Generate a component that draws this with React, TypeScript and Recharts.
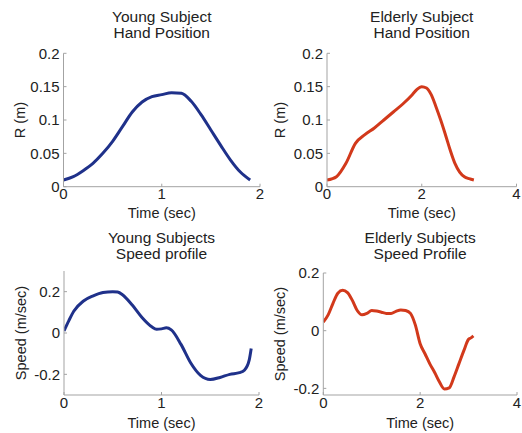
import React from 'react';
import { LineChart, Line, XAxis, YAxis } from 'recharts';

// hand position, young subject
const youngPosTime = [0, 0.1, 0.2, 0.3, 0.4, 0.5, 0.6, 0.7, 0.8, 0.9, 1.0, 1.1, 1.2, 1.3, 1.4, 1.5, 1.6, 1.7, 1.8, 1.9];
const youngPosR = [0.010, 0.015, 0.024, 0.035, 0.050, 0.068, 0.090, 0.112, 0.127, 0.135, 0.138, 0.141, 0.140, 0.128, 0.108, 0.085, 0.062, 0.040, 0.022, 0.010];

// hand position, elderly subject
const elderPosTime = [0, 0.2, 0.4, 0.6, 0.8, 1.0, 1.2, 1.4, 1.6, 1.8, 1.9, 2.0, 2.1, 2.2, 2.3, 2.4, 2.5, 2.6, 2.7, 2.8, 2.9, 3.0, 3.1];
const elderPosR = [0.010, 0.015, 0.035, 0.065, 0.078, 0.088, 0.100, 0.112, 0.124, 0.138, 0.146, 0.150, 0.148, 0.138, 0.120, 0.100, 0.078, 0.055, 0.035, 0.022, 0.015, 0.012, 0.010];

// speed profile, young subjects
const youngSpdTime = [0, 0.05, 0.1, 0.2, 0.3, 0.4, 0.5, 0.55, 0.6, 0.7, 0.8, 0.9, 0.95, 1.0, 1.05, 1.1, 1.2, 1.3, 1.4, 1.5, 1.6, 1.7, 1.8, 1.85, 1.9, 1.92];
const youngSpd = [0.010, 0.060, 0.105, 0.155, 0.180, 0.196, 0.200, 0.198, 0.185, 0.135, 0.075, 0.030, 0.018, 0.020, 0.025, 0.015, -0.055, -0.145, -0.205, -0.225, -0.215, -0.200, -0.192, -0.180, -0.130, -0.075];

// speed profile, elderly subjects
const elderSpdTime = [0, 0.1, 0.2, 0.3, 0.4, 0.5, 0.6, 0.7, 0.8, 0.9, 1.0, 1.1, 1.2, 1.3, 1.4, 1.5, 1.6, 1.7, 1.8, 1.9, 2.0, 2.1, 2.2, 2.3, 2.4, 2.5, 2.6, 2.7, 2.8, 2.9, 3.0, 3.05, 3.1];
const elderSpd = [0.030, 0.055, 0.095, 0.130, 0.140, 0.132, 0.105, 0.070, 0.055, 0.060, 0.070, 0.068, 0.064, 0.060, 0.060, 0.067, 0.072, 0.070, 0.060, 0.020, -0.045, -0.080, -0.115, -0.145, -0.178, -0.202, -0.198, -0.160, -0.115, -0.070, -0.030, -0.025, -0.018];

const posTicks = [0, 0.05, 0.1, 0.15, 0.2];
const spdTicks = [-0.2, 0, 0.2];
const youngTimeTicks = [0, 1, 2];
const elderTimeTicks = [0, 2, 4];

const BLUE = '#1f318a';
const RED = '#d2391b';
const AXIS = '#a3a3a3';
const FONT = '"Liberation Sans", Arial, Helvetica, sans-serif';

const zip = (t: number[], v: number[]) => t.map((x, i) => ({ t: x, v: v[i] }));

type PanelProps = {
  left: number; top: number; width: number; height: number;
  x0: number; x1: number; y0: number; y1: number;
  data: { t: number; v: number }[];
  xDomain: number[]; xTicks: number[];
  yDomain: number[]; yTicks: number[];
  color: string;
  title: string[]; titleTop: number;
  yLabel: string; yLabelX: number;
  xLabelTop: number;
};

const Panel = (p: PanelProps) => {
  const cx = (p.x0 + p.x1) / 2;
  return (
    <>
      <div style={{ position: 'absolute', left: p.left, top: p.top }}>
        <LineChart
          width={p.width}
          height={p.height}
          data={p.data}
          margin={{ top: p.y0 - p.top, right: p.left + p.width - p.x1, bottom: 0, left: 0 }}
        >
          <XAxis
            type="number"
            dataKey="t"
            domain={p.xDomain}
            ticks={p.xTicks}
            interval={0}
            allowDataOverflow
            height={p.top + p.height - p.y1}
            stroke={AXIS}
            tickSize={-3}
            tickMargin={5}
            tick={{ fill: '#222', fontSize: 15 }}
          />
          <YAxis
            type="number"
            domain={p.yDomain}
            ticks={p.yTicks}
            interval={0}
            allowDataOverflow
            width={p.x0 - p.left}
            stroke={AXIS}
            tickSize={-3}
            tickMargin={7}
            tick={{ fill: '#222', fontSize: 15 }}
          />
          <Line
            type="monotone"
            dataKey="v"
            stroke={p.color}
            strokeWidth={3}
            dot={false}
            isAnimationActive={false}
          />
        </LineChart>
      </div>
      <div style={{ position: 'absolute', left: cx - 100, width: 200, top: p.titleTop, textAlign: 'center', fontSize: 15.5, lineHeight: '16px', color: '#222' }}>
        {p.title.map((s) => <div key={s}>{s}</div>)}
      </div>
      <div style={{ position: 'absolute', left: cx - 60, width: 120, top: p.xLabelTop, textAlign: 'center', fontSize: 14.5, lineHeight: '16px', color: '#222' }}>
        Time (sec)
      </div>
      <div style={{ position: 'absolute', left: p.yLabelX, top: (p.y0 + p.y1) / 2, transform: 'translate(-50%, -50%) rotate(-90deg)', whiteSpace: 'nowrap', fontSize: 14.5, color: '#222' }}>
        {p.yLabel}
      </div>
    </>
  );
};

export default function App() {
  return (
    <div style={{ position: 'absolute', left: 0, top: 0, width: 522, height: 433, background: '#fff', fontFamily: FONT, overflow: 'hidden' }}>
      <Panel
        left={0} top={0} width={270} height={215}
        x0={63.5} x1={260} y0={53.3} y1={186.7}
        data={zip(youngPosTime, youngPosR)}
        xDomain={[0, 2]} xTicks={youngTimeTicks}
        yDomain={[0, 0.2]} yTicks={posTicks}
        color={BLUE}
        title={['Young Subject', 'Hand Position']} titleTop={8.5}
        yLabel="R (m)" yLabelX={20}
        xLabelTop={205}
      />
      <Panel
        left={270} top={0} width={252} height={215}
        x0={327} x1={516.5} y0={53.3} y1={186.7}
        data={zip(elderPosTime, elderPosR)}
        xDomain={[0, 4]} xTicks={elderTimeTicks}
        yDomain={[0, 0.2]} yTicks={posTicks}
        color={RED}
        title={['Elderly Subject', 'Hand Position']} titleTop={8.5}
        yLabel="R (m)" yLabelX={280}
        xLabelTop={205}
      />
      <Panel
        left={0} top={222} width={270} height={211}
        x0={64} x1={259} y0={271} y1={395}
        data={zip(youngSpdTime, youngSpd)}
        xDomain={[0, 2]} xTicks={youngTimeTicks}
        yDomain={[-0.3, 0.3]} yTicks={spdTicks}
        color={BLUE}
        title={['Young Subjects', 'Speed profile']} titleTop={229.5}
        yLabel="Speed (m/sec)" yLabelX={21}
        xLabelTop={415}
      />
      <Panel
        left={270} top={222} width={252} height={211}
        x0={323.3} x1={517} y0={273} y1={395}
        data={zip(elderSpdTime, elderSpd)}
        xDomain={[0, 4]} xTicks={elderTimeTicks}
        yDomain={[-0.223, 0.2]} yTicks={spdTicks}
        color={RED}
        title={['Elderly Subjects', 'Speed Profile']} titleTop={229.5}
        yLabel="Speed (m/sec)" yLabelX={280}
        xLabelTop={415}
      />
    </div>
  );
}
